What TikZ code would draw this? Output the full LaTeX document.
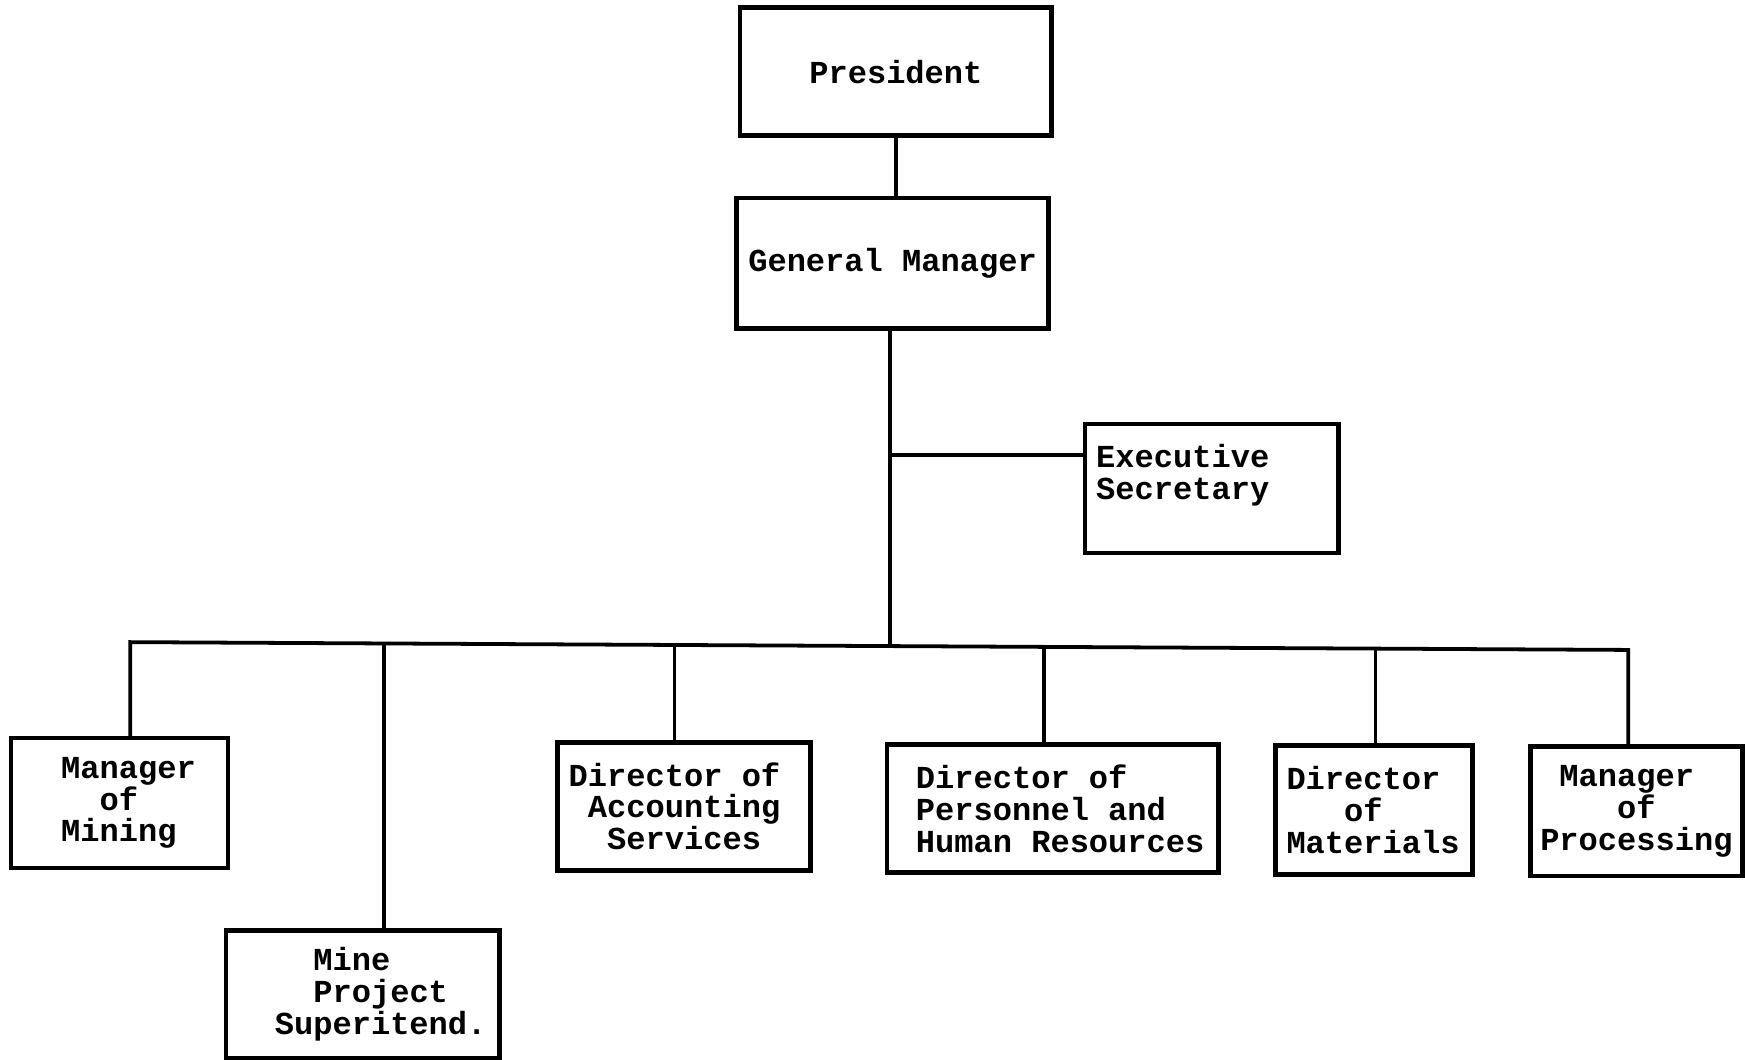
\documentclass[tikz,border=0pt]{standalone}
\usepackage{fontspec}
\newfontfamily\orgfont[WordSpace={1,0,0}]{Liberation Mono}
\newcommand\myind[1]{\hspace*{#1\fontcharwd\font`\M}}
\newcommand\msp{\kern\fontcharwd\font`\M\relax}
\newcommand\orgfontsel{\orgfont\bfseries\fontsize{14.4}{14.3}\selectfont\hyphenpenalty10000\relax}
\begin{document}
\begin{tikzpicture}[x=0.5pt,y=-0.5pt,
  orgbox/.style={draw, line width=2.1pt, rectangle, outer sep=0pt, inner ysep=0pt,
    anchor=north west, font=\orgfontsel, align=left},
  wire/.style={line width=1.7pt, line join=miter}]
\useasboundingbox (0,0) rectangle (1568,952);
\fill[white] (0,0) rectangle (1568,952);

\node[orgbox, align=center, minimum width=140pt, minimum height=57.5pt] (pres) at (665,7) {President};
\node[orgbox, align=center, minimum width=140pt, minimum height=58.5pt] (gm) at (662,178) {General\msp Manager};
\node[orgbox, inner xsep=5pt, text width=104pt, minimum height=58pt] (exec) at (975,381)
  {Executive\\Secretary\rule[-15.2pt]{0pt}{0pt}};

\node[orgbox, inner xsep=22.5pt, text width=52.5pt, minimum height=58.5pt] (mining) at (10,663)
  {Manager\\\myind{2}of\\Mining};
\node[orgbox, inner xsep=22pt, text width=79pt, minimum height=57.5pt] (mine) at (203,836)
  {\myind{2}Mine\\\myind{2}Project\\Superitend.};
\node[orgbox, inner xsep=5pt, text width=103.5pt, minimum height=57.5pt] (acct) at (501,667)
  {Director\msp of\\\myind{1}Accounting\\\myind{2}Services};
\node[orgbox, inner xsep=13pt, text width=123pt, minimum height=57.5pt] (pers) at (797,669)
  {Director\msp of\\Personnel\msp and\\Human\msp Resources};
\node[orgbox, inner xsep=5pt, text width=78.5pt, minimum height=58pt] (mat) at (1146,670)
  {Director\\\myind{3}of\\Materials};
\node[orgbox, inner xsep=4.5pt, text width=86.5pt, minimum height=58pt] (proc) at (1375,671)
  {\myind{1}Manager\\\myind{4}of\\Processing};

\coordinate (busL) at (117,577);
\coordinate (busR) at (1463,584);
\coordinate (gmj) at (800,580.6);
\coordinate (exj) at (800,409);
\coordinate (bmine) at (345,578.2);
\coordinate (bacct) at (606,579.5);
\coordinate (bpers) at (938,581.3);
\coordinate (bmat) at (1236,582.8);

\draw[wire] (pres.south) -- (pres.south |- gm.north);
\draw[wire] (gm.south -| gmj) -- (gmj);
\draw[wire] (exj) -- (exj -| exec.west);
\draw[wire] (busL |- mining.north) -- (busL) -- (busR) -- (busR |- proc.north);
\draw[wire] (bmine) -- (bmine |- mine.north);
\draw[wire] (bacct) -- (bacct |- acct.north);
\draw[wire] (bpers) -- (bpers |- pers.north);
\draw[wire] (bmat) -- (bmat |- mat.north);
\end{tikzpicture}
\end{document}
